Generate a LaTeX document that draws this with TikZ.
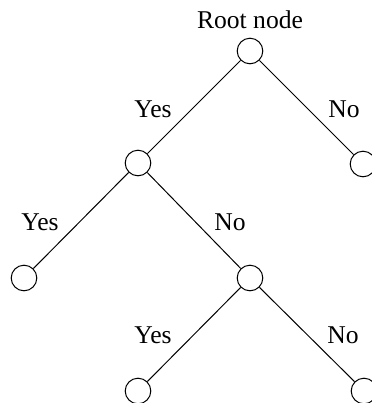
\documentclass[tikz,border=0pt]{standalone}
\usepackage{fontspec}
\setmainfont{Liberation Serif}
\usepackage{tikz}
\usetikzlibrary{positioning}

\begin{document}
\begin{tikzpicture}[x=0.5pt,y=-0.5pt,
    leaf/.style={circle,draw,line width=0.5pt,minimum size=12.8pt,inner sep=0pt},
    lbl/.style={anchor=base,inner sep=0pt,font=\fontsize{12.8}{15}\selectfont}]
    \useasboundingbox (0,0) rectangle (371,403);

    % Decision nodes
    \node[leaf] (root) at (250,51) {};
    \node[leaf] (l) at (138,163) {};
    \node[leaf] (r) at (363,164) {};
    \node[leaf] (ll) at (24,278) {};
    \node[leaf] (lr) at (250,278) {};
    \node[leaf] (lrl) at (138,391) {};
    \node[leaf] (lrr) at (364,391) {};

    \node[lbl] (title) at (250,28) {Root node};

    % Branches
    \draw[line width=0.5pt] (root) -- (l);
    \draw[line width=0.5pt] (root) -- (r);
    \draw[line width=0.5pt] (l) -- (ll);
    \draw[line width=0.5pt] (l) -- (lr);
    \draw[line width=0.5pt] (lr) -- (lrl);
    \draw[line width=0.5pt] (lr) -- (lrr);

    % Branch labels
    \node[lbl] (yesA) at (153,117) {Yes};
    \node[lbl] (noA) at (344,117) {No};
    \node[lbl] (yesB) at (40,230) {Yes};
    \node[lbl] (noB) at (230,230) {No};
    \node[lbl] (yesC) at (153,343) {Yes};
    \node[lbl] (noC) at (343,343) {No};
\end{tikzpicture}
\end{document}
